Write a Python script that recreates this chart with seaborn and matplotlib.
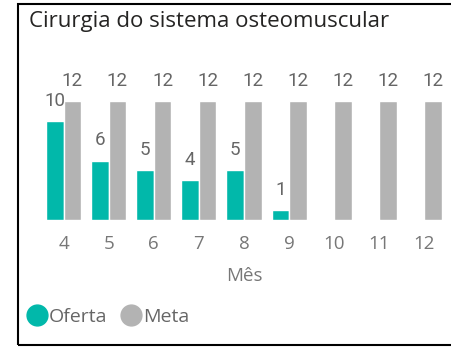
import matplotlib
matplotlib.use("Agg")
import matplotlib.pyplot as plt
from matplotlib.patches import Rectangle
from matplotlib.lines import Line2D
import seaborn as sns
import pandas as pd

meses = [4, 5, 6, 7, 8, 9, 10, 11, 12]
oferta = [10, 6, 5, 4, 5, 1, 0, 0, 0]
meta = [12, 12, 12, 12, 12, 12, 12, 12, 12]
series = ["Oferta", "Meta"]
cores = {"Oferta": "#01B8AA", "Meta": "#B3B3B3"}

df = pd.DataFrame({
    "Mês": [str(m) for m in meses] * 2,
    "valor": oferta + meta,
    "serie": ["Oferta"] * len(meses) + ["Meta"] * len(meses),
})

sns.set_theme(style="white")
plt.rcParams["font.family"] = ["Open Sans", "DejaVu Sans"]

W, H = 452, 347
fig = plt.figure(figsize=(W / 100, H / 100), dpi=100)
fig.patch.set_facecolor("white")

# axes placed in pixel units: baseline at y=220, 12 reaches y=101
left, right = 41, 447
bottom, top = 220, 101
ax = fig.add_axes([left / W, (H - bottom) / H, (right - left) / W, (bottom - top) / H])

sns.barplot(data=df, x="Mês", y="valor", hue="serie", hue_order=series,
            palette=cores, width=0.78, dodge=True, saturation=1,
            ax=ax, legend=False)

ax.set_ylim(0, 12)
ax.set_xlim(-0.5, len(meses) - 0.5)
for s in ax.spines.values():
    s.set_visible(False)
ax.set_yticks([])
ax.set_ylabel("")
ax.tick_params(axis="x", length=0, pad=11, labelsize=13.5, labelcolor="#777777")
ax.set_xlabel("Mês", fontsize=13.5, color="#777777", labelpad=10)

for cont, vals in zip(ax.containers, [oferta, meta]):
    labels = [str(v) if v != 0 else "" for v in vals]
    ax.bar_label(cont, labels=labels, padding=8, fontsize=13.5,
                 color="#666666", clip_on=False, family=["Roboto", "DejaVu Sans"])

fig.text(29 / W, 1 - 21 / H, "Cirurgia do sistema osteomuscular",
         fontsize=16, color="#252423", va="center", ha="left")

handles = [Line2D([], [], marker="o", linestyle="", markersize=15,
                  markerfacecolor=cores[s], markeredgecolor=cores[s]) for s in series]
fig.legend(handles, series, loc="center left",
           bbox_to_anchor=(27 / W, 1 - 317 / H), ncol=2, frameon=False,
           handlelength=1.0, handletextpad=0.12, columnspacing=0.7,
           borderaxespad=0, borderpad=0,
           prop={"size": 14}, labelcolor="#666666")

fig.add_artist(Rectangle((18 / W, 2.5 / H), 1.2, 1 - 6 / H,
                         transform=fig.transFigure, fill=False,
                         edgecolor="black", linewidth=1.5))

fig.savefig("out.png", dpi=100, facecolor="white")
